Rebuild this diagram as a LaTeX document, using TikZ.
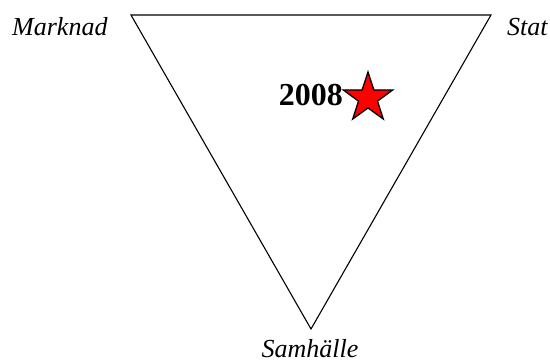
\documentclass[tikz,border=0pt]{standalone}
\usepackage{fontspec}
\setmainfont{Liberation Serif}
\usetikzlibrary{shapes.geometric}

\begin{document}
\begin{tikzpicture}[x=1pt,y=-1pt,
  corner/.style={font=\itshape\fontsize{26}{30}\selectfont,inner sep=0pt},
  mark2008/.style={star,star points=5,star point ratio=2.6,minimum size=52pt,inner sep=0pt,
    fill=red,draw=black,line width=1.3pt}]
\useasboundingbox (0,0) rectangle (550,364);
\coordinate (tl) at (131,15);
\coordinate (tr) at (491,15);
\coordinate (bot) at (311,329);
\draw[line width=1.1pt,line join=miter] (tl) -- (tr) -- (bot) -- cycle;
\node[corner,anchor=base west] (marknad) at (12,35) {Marknad};
\node[corner,anchor=base west] (stat) at (507,35) {Stat};
\node[corner,anchor=base] (samhalle) at (310,357) {Samhälle};
\node[mark2008] (star) at (368,98) {};
\node[anchor=base east,inner sep=0pt,font=\bfseries\fontsize{32}{36}\selectfont] (year) at (343,105) {2008};
\end{tikzpicture}
\end{document}
